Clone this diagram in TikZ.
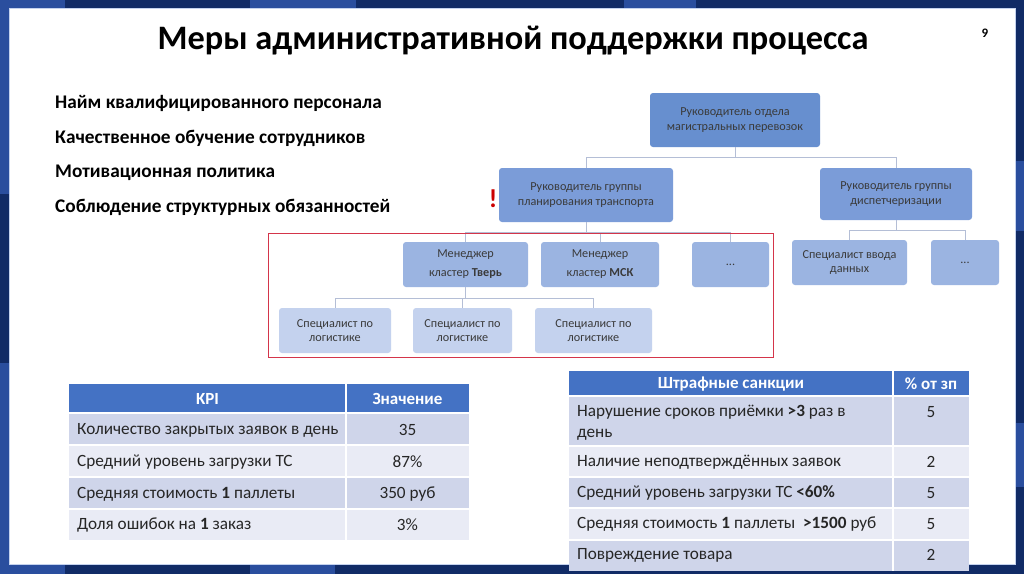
\documentclass[tikz,border=0pt]{standalone}
\usepackage{fontspec}
\setmainfont{Carlito}
\definecolor{navy}{HTML}{112B66}
\definecolor{frameblue}{HTML}{2A4E9E}
\definecolor{lvlA}{HTML}{678FCF}
\definecolor{lvlB}{HTML}{7B9CD8}
\definecolor{lvlC}{HTML}{9BB4E1}
\definecolor{lvlD}{HTML}{C4D2EE}
\definecolor{boxtext}{HTML}{3A3A3A}
\definecolor{connc}{HTML}{B4BED6}
\definecolor{redframe}{HTML}{D4354A}
\definecolor{hdr}{HTML}{4472C4}
\definecolor{rowdark}{HTML}{CFD5EA}
\definecolor{rowlight}{HTML}{E9EBF5}
\definecolor{tabtext}{HTML}{262626}
\begin{document}
\begin{tikzpicture}[x=1pt,y=-1pt,
  orgbox/.style={rounded corners=3pt, text=boxtext, align=center, inner sep=0pt,
     font=\fontsize{12.2}{14.5}\selectfont},
  boxA/.style={orgbox, fill=lvlA},
  boxB/.style={orgbox, fill=lvlB},
  boxC/.style={orgbox, fill=lvlC},
  boxD/.style={orgbox, fill=lvlD},
  conn/.style={draw=connc, line width=0.9pt},
  bullet/.style={anchor=west, font=\bfseries\fontsize{19.3}{23}\selectfont, text=black, inner sep=0pt},
  hdrtext/.style={text=white, font=\bfseries\fontsize{17}{20}\selectfont, inner sep=0pt},
  celltext/.style={text=tabtext, font=\fontsize{17.2}{21}\selectfont, inner sep=0pt},
]
\useasboundingbox (0,0) rectangle (1024,574);
% frame
\fill[navy] (0,0) rectangle (1024,574);
\fill[frameblue] (0,0) rectangle (65,8);
\fill[frameblue] (250,0) rectangle (356,8);
\fill[frameblue] (624,0) rectangle (696,8);
\fill[frameblue] (0,0) rectangle (9,194);
\fill[frameblue] (0,363) rectangle (9,574);
\fill[frameblue] (0,564) rectangle (65,574);
\fill[frameblue] (250,564) rectangle (335,574);
\fill[frameblue] (1015,161) rectangle (1024,231);
\fill[frameblue] (1015,423) rectangle (1024,487);
\fill[white, draw=lvlD, line width=0.6pt] (9,8) rectangle (1015,564);

% title
\node[font=\bfseries\fontsize{34.3}{38}\selectfont, text=black, inner sep=0pt] (title) at (513,41) {Меры административной поддержки процесса};
\node[font=\bfseries\fontsize{13}{15}\selectfont, text=black, inner sep=0pt] (pagenum) at (985,33) {9};

% bullets
\node[bullet] (b1) at (55,103) {Найм квалифицированного персонала};
\node[bullet] (b2) at (55,138) {Качественное обучение сотрудников};
\node[bullet] (b3) at (55,172.5) {Мотивационная политика};
\node[bullet] (b4) at (55,207.5) {Соблюдение структурных обязанностей};

% org chart nodes
\node[boxA, minimum width=170pt, minimum height=54pt] (top) at (735,120) {Руководитель отдела\\магистральных перевозок};
\node[boxB, minimum width=174pt, minimum height=54pt] (plan) at (586,195) {Руководитель группы\\планирования транспорта};
\node[boxB, minimum width=152pt, minimum height=52pt] (disp) at (896,194) {Руководитель группы\\диспетчеризации};
\node[boxC, minimum width=125pt, minimum height=45pt, font=\fontsize{12.2}{19}\selectfont] (tver) at (465.5,264.5) {Менеджер\\кластер \textbf{Тверь}};
\node[boxC, minimum width=118pt, minimum height=45pt, font=\fontsize{12.2}{19}\selectfont] (msk) at (600,264.5) {Менеджер\\кластер \textbf{МСК}};
\node[boxC, minimum width=77pt, minimum height=45pt] (dotsA) at (730.5,264.5) {...};
\node[boxD, minimum width=112pt, minimum height=45pt] (spA) at (335,330.5) {Специалист по\\логистике};
\node[boxD, minimum width=99pt, minimum height=45pt] (spB) at (462.5,330.5) {Специалист по\\логистике};
\node[boxD, minimum width=117pt, minimum height=45pt] (spC) at (593.5,330.5) {Специалист по\\логистике};
\node[boxC, minimum width=115pt, minimum height=45pt] (vvod) at (849.5,262.5) {Специалист ввода\\данных};
\node[boxC, minimum width=68pt, minimum height=45pt] (dotsB) at (965,262.5) {...};

% connectors
\coordinate (busA) at (735,157);
\draw[conn] (top.south) -- (busA);
\draw[conn] (busA) -| (plan.north);
\draw[conn] (busA) -| (disp.north);
\coordinate (busB) at (586,232);
\draw[conn] (plan.south) -- (busB);
\draw[conn] (busB) -| (tver.north);
\draw[conn] (busB) -| (msk.north);
\draw[conn] (busB) -| (dotsA.north);
\coordinate (busC) at (465.5,298);
\draw[conn] (tver.south) -- (busC);
\draw[conn] (busC) -| (spA.north);
\draw[conn] (busC) -| (spB.north);
\draw[conn] (busC) -| (spC.north);
\coordinate (busD) at (896,230);
\draw[conn] (disp.south) -- (busD);
\draw[conn] (busD) -| (vvod.north);
\draw[conn] (busD) -| (dotsB.north);

% red frame and mark
\draw[redframe, line width=0.8pt] (268,233) rectangle (773,357);
\node[text=red!80!black, font=\bfseries\fontsize{26}{28}\selectfont, inner sep=0pt] (excl) at (493,199) {!};

% KPI table
\fill[hdr] (69,384) rectangle (469,413);
\fill[rowdark] (69,413) rectangle (469,445);
\fill[rowlight] (69,445) rectangle (469,477);
\fill[rowdark] (69,477) rectangle (469,509);
\fill[rowlight] (69,509) rectangle (469,540);
\foreach \yy in {413,445,477,509} \draw[white, line width=1.5pt] (69,\yy) -- (469,\yy);
\draw[white, line width=1.5pt] (346,384) -- (346,540);
\node[hdrtext] (kh1) at (207.5,399) {KPI};
\node[hdrtext] (kh2) at (407.5,399) {Значение};
\node[celltext, anchor=west] (k1) at (77,430) {Количество закрытых заявок в день};
\node[celltext, anchor=west] (k2) at (77,462) {Средний уровень загрузки ТС};
\node[celltext, anchor=west] (k3) at (77,494) {Средняя стоимость \textbf{1} паллеты};
\node[celltext, anchor=west] (k4) at (77,525) {Доля ошибок на \textbf{1} заказ};
\node[celltext] (kv1) at (407.5,430) {35};
\node[celltext] (kv2) at (407.5,462) {87\%};
\node[celltext] (kv3) at (407.5,494) {350 руб};
\node[celltext] (kv4) at (407.5,525) {3\%};

% Penalty table
\fill[hdr] (569,371) rectangle (969,396);
\fill[rowdark] (569,396) rectangle (969,446);
\fill[rowlight] (569,446) rectangle (969,477);
\fill[rowdark] (569,477) rectangle (969,508);
\fill[rowlight] (569,508) rectangle (969,540);
\fill[rowdark] (569,540) rectangle (969,571);
\foreach \yy in {396,446,477,508,540} \draw[white, line width=1.5pt] (569,\yy) -- (969,\yy);
\draw[white, line width=1.5pt] (893,371) -- (893,571);
\node[hdrtext] (ph1) at (731,384) {Штрафные санкции};
\node[hdrtext] (ph2) at (931,384) {\% от зп};
\node[celltext, anchor=north west, align=left] (p1) at (577,405) {Нарушение сроков приёмки \textbf{>3} раз в\\день};
\node[celltext, anchor=west] (p2) at (577,462) {Наличие неподтверждённых заявок};
\node[celltext, anchor=west] (p3) at (577,493) {Средний уровень загрузки ТС \textbf{<60\%}};
\node[celltext, anchor=west] (p4) at (577,524) {Средняя стоимость \textbf{1} паллеты\ \ \textbf{>1500} руб};
\node[celltext, anchor=west] (p5) at (577,555) {Повреждение товара};
\node[celltext] (pv1) at (931,412) {5};
\node[celltext] (pv2) at (931,462) {2};
\node[celltext] (pv3) at (931,493) {5};
\node[celltext] (pv4) at (931,524) {5};
\node[celltext] (pv5) at (931,555) {2};
\end{tikzpicture}
\end{document}
